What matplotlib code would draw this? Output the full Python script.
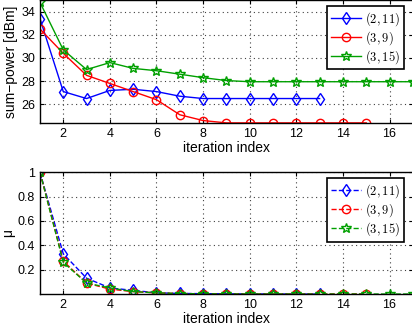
import matplotlib
matplotlib.use('Agg')
import matplotlib.pyplot as plt

plt.rcParams['font.family'] = ['Liberation Sans', 'DejaVu Sans']
plt.rcParams['mathtext.fontset'] = 'cm'

labels = [r'$(2,11)$', r'$(3,9)$', r'$(3,15)$']
colors = ['blue', 'red', '#00a000']
markers = ['d', 'o', '*']

# sum-power per iteration
it_a = list(range(1, 14))
pow_a = [33.4, 27.1, 26.5, 27.2, 27.3, 27.1, 26.7, 26.5, 26.5, 26.5, 26.5, 26.5, 26.5]
it_b = list(range(1, 16))
pow_b = [32.5, 30.4, 28.5, 27.8, 27.1, 26.4, 25.1, 24.6, 24.4, 24.4, 24.4, 24.4, 24.4, 24.4, 24.4]
it_c = list(range(1, 18))
pow_c = [34.8, 30.7, 29.0, 29.6, 29.1, 28.9, 28.6, 28.3, 28.05, 27.95, 27.95, 27.95,
         27.95, 27.95, 27.95, 27.95, 27.95]

# mu per iteration
mu_a = [1.0, 0.33, 0.13, 0.05, 0.03, 0.01, 0.005, 0.003, 0.002, 0.001, 0.001, 0.0, 0.0]
mu_b = [1.0, 0.27, 0.09, 0.04, 0.02, 0.01, 0.004, 0.002, 0.001, 0.0, 0.0, 0.0, 0.0, 0.0, 0.0]
mu_c = [1.0, 0.26, 0.09, 0.05, 0.02, 0.01, 0.004, 0.002, 0.001, 0.0, 0.0, 0.0, 0.0,
        0.0, 0.0, 0.0, 0.0]

fig = plt.figure(figsize=(4.12, 3.33), dpi=100)
ax1 = fig.add_axes([0.097, 0.631, 0.905, 0.369])
ax2 = fig.add_axes([0.097, 0.117, 0.905, 0.366])

its = [it_a, it_b, it_c]
for x, y, c, m, l in zip(its, [pow_a, pow_b, pow_c], colors, markers, labels):
    ax1.plot(x, y, color=c, marker=m, mfc='none', mec=c, ms=7.5 if m == '*' else 6,
             lw=1.0, label=l)
for x, y, c, m, l in zip(its, [mu_a, mu_b, mu_c], colors, markers, labels):
    ax2.plot(x, y, color=c, marker=m, mfc='none', mec=c, ms=7.5 if m == '*' else 6,
             lw=1.0, ls='--', label=l)

ax1.set_xlim(1, 17)
ax1.set_ylim(24.4, 35)
ax1.set_xticks([2, 4, 6, 8, 10, 12, 14, 16])
ax1.set_yticks([26, 28, 30, 32, 34])
ax1.set_ylabel('sum\u2212power [dBm]', fontsize=10, labelpad=2)
ax1.set_xlabel('iteration index', fontsize=10, labelpad=1)

ax2.set_xlim(1, 17)
ax2.set_ylim(0, 1)
ax2.set_xticks([2, 4, 6, 8, 10, 12, 14, 16])
ax2.set_yticks([0.2, 0.4, 0.6, 0.8, 1])
ax2.set_yticklabels(['0.2', '0.4', '0.6', '0.8', '1'])
ax2.set_ylabel('\u03bc', fontsize=10, labelpad=2)
ax2.set_xlabel('iteration index', fontsize=10, labelpad=1)

for ax in (ax1, ax2):
    ax.grid(True, ls=(0, (1, 3)), color='0.25', lw=0.8)
    ax.tick_params(direction='in', labelsize=9, length=3, top=True, right=True)
    for s in ax.spines.values():
        s.set_linewidth(1.0)
    leg = ax.legend(loc='upper right', bbox_to_anchor=(0.975, 0.95), fontsize=9,
                    fancybox=False, framealpha=1, edgecolor='k', borderpad=0.3,
                    labelspacing=0.1, handlelength=2.4, handletextpad=0.3,
                    borderaxespad=0.0)
    leg.get_frame().set_linewidth(1.2)

fig.savefig('out.png', dpi=100)
